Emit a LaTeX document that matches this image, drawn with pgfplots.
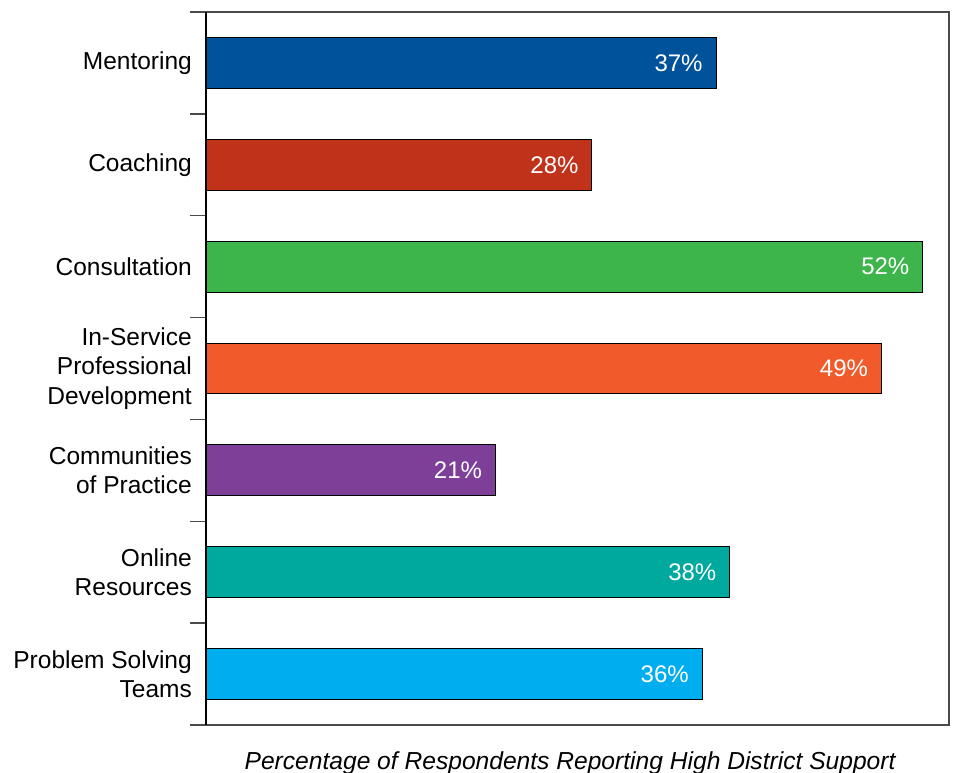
\documentclass[border=0pt]{standalone}
\usepackage{pgfplots}
\pgfplotsset{compat=1.18}
\usepackage{fontspec}
\setmainfont{Liberation Sans}
\definecolor{cMent}{HTML}{00529B}
\definecolor{cCoach}{HTML}{C1321B}
\definecolor{cCons}{HTML}{3DB54A}
\definecolor{cInserv}{HTML}{F15A2B}
\definecolor{cComm}{HTML}{7E3F98}
\definecolor{cOnl}{HTML}{00A99D}
\definecolor{cProb}{HTML}{00AEEF}
\definecolor{axgray}{HTML}{4A4A4A}
\begin{document}
\begin{tikzpicture}
\path[use as bounding box] (-206pt,-48pt) rectangle (750pt,725pt);
\begin{axis}[
  scale only axis,
  width=743pt, height=713pt,
  xbar, bar width=0.5, bar shift=0pt,
  xmin=0, xmax=53.9,
  ymin=-0.5, ymax=6.5,
  y dir=reverse,
  xtick=\empty,
  ytick={0,1,2,3,4,5,6},
  ytick pos=left,
  yticklabels={Mentoring,Coaching,Consultation,{In-Service\\Professional\\Development},{Communities\\of Practice},{Online\\Resources},{Problem Solving\\Teams}},
  major tick length=0pt,
  minor ytick={-0.5,0.5,1.5,2.5,3.5,4.5,5.5,6.5},
  minor tick length=16pt,
  tick align=outside,
  tick style={axgray, line width=1.3pt},
  axis line style={axgray, line width=1.3pt},
  yticklabel style={align=right, font=\fontsize{24.5}{29.5}\selectfont, inner sep=0pt, xshift=-14pt},
  /pgf/number format/assume math mode=true,
  point meta=x,
  nodes near coords={\pgfmathprintnumber{\pgfplotspointmeta}\%},
  nodes near coords style={anchor=east, xshift=-13pt, white, font=\fontsize{24}{28}\selectfont, inner sep=0pt},
  xlabel={\itshape Percentage of Respondents Reporting High District Support},
  xlabel style={at={(axis description cs:0.49,0)}, anchor=base, yshift=-44pt, font=\fontsize{24.6}{28}\selectfont},
  clip=false,
]
\addplot[draw=black, line width=1pt, fill=cMent] coordinates {(37,0)};
\addplot[draw=black, line width=1pt, fill=cCoach] coordinates {(28,1)};
\addplot[draw=black, line width=1pt, fill=cCons] coordinates {(52,2)};
\addplot[draw=black, line width=1pt, fill=cInserv] coordinates {(49,3)};
\addplot[draw=black, line width=1pt, fill=cComm] coordinates {(21,4)};
\addplot[draw=black, line width=1pt, fill=cOnl] coordinates {(38,5)};
\addplot[draw=black, line width=1pt, fill=cProb] coordinates {(36,6)};
\draw[black, line width=1.5pt] (axis cs:0,-0.5) -- (axis cs:0,6.5);
\end{axis}
\end{tikzpicture}
\end{document}
